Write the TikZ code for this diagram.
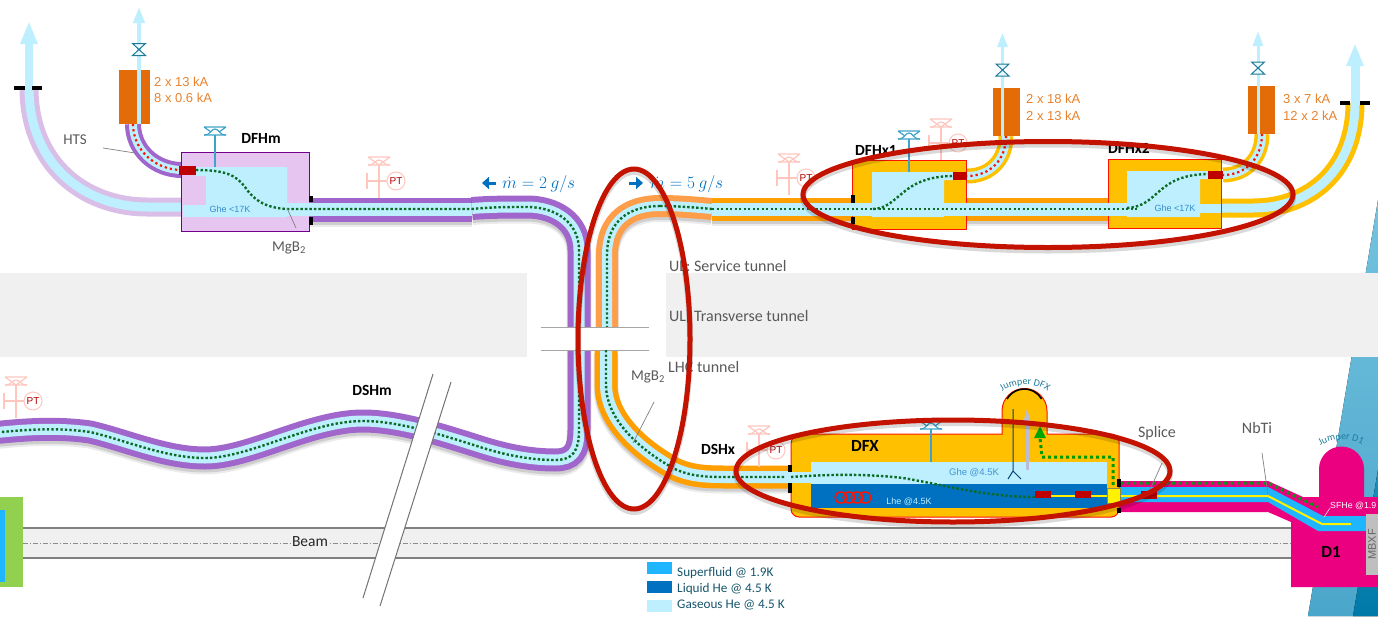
\documentclass[tikz,border=0pt]{standalone}
\usepackage{fontspec}
\setmainfont{Carlito}
\newfontfamily\leadfont{Liberation Sans}
\usetikzlibrary{arrows.meta,decorations.text}
\definecolor{gaslight}{HTML}{BDEFFF}
\definecolor{lhe}{HTML}{0070C0}
\definecolor{sfhe}{HTML}{1FB5FF}
\definecolor{dfhmfill}{HTML}{E6C6F0}
\definecolor{purp}{HTML}{A066CC}
\definecolor{lavend}{HTML}{D9BEE8}
\definecolor{oranA}{HTML}{FF9E00}
\definecolor{oranB}{HTML}{FF9E4A}
\definecolor{gold}{HTML}{FFC000}
\definecolor{leadbox}{HTML}{E36C09}
\definecolor{hoopred}{HTML}{C41200}
\definecolor{magent}{HTML}{EB0080}
\definecolor{tunnel}{HTML}{F0F0F0}
\definecolor{txtgray}{HTML}{595959}
\definecolor{ptpink}{HTML}{FFC6BE}
\definecolor{ventblue}{HTML}{3FA2C8}
\definecolor{valveteal}{HTML}{1F7A99}
\definecolor{dotgreen}{HTML}{0B6B23}
\definecolor{leafgreen}{HTML}{92D050}
\definecolor{slideA}{HTML}{74C3DF}
\definecolor{slideB}{HTML}{4BA6CB}
\definecolor{slideC}{HTML}{1A90BC}
\definecolor{slideD}{HTML}{0079A8}
\newcommand{\fs}[1]{\fontsize{#1}{#1}\selectfont}
% colour, outer width, inner width, dot style, path
\newcommand{\tube}[5]{%
  \draw[#1,line width=#2] #5;
  \draw[gaslight,line width=#3] #5;
  \draw[#4] #5;
}
\newcommand{\shadetube}[5]{%
  \draw[black,opacity=.08,line width=#2+2pt,yshift=-4pt] #5;
  \draw[black,opacity=.12,line width=#2,yshift=-3pt] #5;
  \tube{#1}{#2}{#3}{#4}{#5}
}
% name, foot of the stem
\newcommand{\ptsym}[3]{%
  \begin{scope}[shift={(#2,#3)}]
    \draw[ptline] (0,0) -- (0,-33);
    \draw[ptline] (-11,-41) -- (11,-41) (-11,-33) -- (11,-33) (-11,-41) -- (0,-33) -- (11,-41);
    \draw[ptline] (-11,-33) .. controls (-4,-33) and (-4,-38) .. (0,-38) .. controls (4,-38) and (4,-33) .. (11,-33);
    \node[ptcircle] (#1) at (17,-17) {PT};
    \draw[ptline] (-12,-17) -- (#1.west) (-12,-25) -- (-12,-9);
  \end{scope}}
\newcommand{\ventsym}[3]{%
  \begin{scope}[shift={(#1,#2)}]
    \draw[ventblue,line width=1.2pt] (0,0) -- (0,#3);
    \draw[ventblue,line width=1.2pt] (-11,-8) -- (11,-8) (-11,0) -- (11,0) (-11,-8) -- (-4,-3) (11,-8) -- (4,-3);
    \draw[ventblue,line width=1.2pt] (-11,0) .. controls (-4,0) and (-4,-6) .. (0,-6) .. controls (4,-6) and (4,0) .. (11,0);
  \end{scope}}
\newcommand{\valvesym}[2]{%
  \draw[valveteal,line width=1pt,fill=gaslight!40] (#1-6.5,#2-6) -- (#1+6.5,#2-6) -- (#1-6.5,#2+6) -- (#1+6.5,#2+6) -- cycle;}
\begin{document}
\begin{tikzpicture}[x=1pt,y=-1pt,
  lbltext/.style={font=\fs{15},text=txtgray,inner sep=0pt},
  tunneltxt/.style={font=\fs{16},text=txtgray,anchor=west,inner sep=0pt},
  nametag/.style={font=\fs{15.5}\bfseries,text=black,inner sep=0pt},
  amps/.style={font=\leadfont\fs{13},text=leadbox!85,anchor=west,inner sep=0pt},
  temp/.style={font=\leadfont\fs{9},text=lhe!80,inner sep=0pt},
  legtext/.style={font=\fs{13.2},text=valveteal!70!black,anchor=west,inner sep=0pt},
  legbox/.style={minimum width=25pt,minimum height=12pt,inner sep=0pt},
  ptline/.style={ptpink,line width=1.2pt},
  ptcircle/.style={circle,draw=ptpink,line width=1pt,fill=white,minimum size=18pt,inner sep=0pt,font=\leadfont\fs{10},text=red!70!black},
  gdots/.style={dotgreen,line width=2.4pt,dash pattern=on 2.4pt off 2.1pt},
  rdots/.style={red!85!orange,line width=2.2pt,dash pattern=on 2.2pt off 3pt},
  nodots/.style={draw=none},
  tank/.style={fill=gaslight},
  splice/.style={fill=red!75!black},
  flange/.style={black,line width=4pt},
  leader/.style={gray,line width=.7pt},
  hoop/.style={draw=hoopred,line width=5pt,preaction={draw=black,opacity=.15,line width=6pt,transform canvas={yshift=-3pt}}},
  flowarr/.style={-{Triangle[length=7pt,width=12pt]},lhe,line width=3pt}
]
\useasboundingbox (0,0) rectangle (1378,616);
% Slide corner, tunnels and beam
\fill[top color=slideA,bottom color=slideB] (1378,200) -- (1308,616) -- (1378,616) -- cycle;
\fill[top color=slideC,bottom color=slideD] (1378,470) -- (1353,616) -- (1378,616) -- cycle;
\fill[tunnel] (0,273) rectangle (527,357);
\fill[tunnel] (666,273) rectangle (1378,357);
\draw[fill=tunnel,draw=black!50,line width=1.2pt] (23,528) -- (1292,528) -- (1292,558) -- (23,558);
\draw[black!45,line width=.6pt,dash pattern=on 5pt off 2pt on 1pt off 2pt] (23,543) -- (1292,543);
\node[font=\fs{15.5},text=black!85,fill=tunnel,inner sep=1pt] (beam) at (310,542) {Beam};
\fill[leafgreen] (0,497) rectangle (23,587);
\fill[sfhe] (0,510) rectangle (5,582);

% DFHm side
\tube{lavend}{19pt}{9pt}{nodots}{(29,88) .. controls (29,165) and (85,207) .. (147,207) -- (185,207)}
\draw[-{Triangle[length=23pt,width=16pt]},gaslight,line width=8pt] (29,90) -- (29,21);
\draw[flange] (14,88) -- (25,88) (32,88) -- (42,88);
\tube{purp}{16pt}{8pt}{rdots}{(133,124) .. controls (133,150) and (155,170) .. (182,170)}
\draw[-{Triangle[length=16pt,width=11pt]},gaslight,line width=4pt] (139,124) -- (139,7);
\fill[leadbox] (119,70) rectangle (150,124);
\fill[gaslight] (137,70) rectangle (141,124);
\valvesym{139}{49.5}
\node[amps] (ampsA) at (154,82) {2 x 13 kA};
\node[amps] (ampsB) at (154,98) {8 x 0.6 kA};
\draw[fill=dfhmfill,draw=purple!60!blue,line width=1pt] (181,152) rectangle (309,231);
\shadetube{purp}{24pt}{13pt}{nodots}{(309,209.5) -- (472,209.5)}
\shadetube{purp}{23pt}{11pt}{nodots}{(472,208.5) .. controls (490,207) and (510,207) .. (527,207) .. controls (555,207) and (579,222) .. (579,250) -- (579,430) .. controls (579,452) and (572,460) .. (555,460) .. controls (530,460) and (505,455) .. (480,447) .. controls (445,436) and (400,421) .. (363,421) .. controls (310,421) and (250,458) .. (205,458) .. controls (165,458) and (125,440) .. (90,432) .. controls (55,427) and (20,430) .. (-8,433)}
\fill[tank] (196,167) -- (287,167) -- (287,217) -- (206,217) -- (206,176) -- (196,176) -- cycle;
\fill[tank] (183,205) rectangle (206,217);
\fill[tank] (287,203) rectangle (315,216);
\fill[splice] (179,166) rectangle (196,175);
\ventsym{215}{135}{32}
\draw[gdots] (196,170) .. controls (225,170) and (236,175) .. (245,187) .. controls (255,202) and (268,208) .. (287,209) -- (472,209) .. controls (490,207) and (510,207) .. (527,207) .. controls (555,207) and (579,222) .. (579,250) -- (579,327);
\draw[gdots] (579,350) -- (579,430) .. controls (579,452) and (572,460) .. (555,460) .. controls (530,460) and (505,455) .. (480,447) .. controls (445,436) and (400,421) .. (363,421) .. controls (310,421) and (250,458) .. (205,458) .. controls (165,458) and (125,440) .. (90,432) .. controls (55,427) and (20,430) .. (-8,433);
\draw[flange] (311,196) -- (311,202) (311,217) -- (311,225);
\node[temp] (gheA) at (230,209) {Ghe <17K};
\node[lbltext] (hts) at (75,140) {HTS};
\coordinate (htsA) at (103,148);
\coordinate (htsB) at (135,153);
\draw[leader] (htsA) -- (htsB);
\node[nametag] (dfhm) at (261,138) {DFHm};
\node[lbltext] (mgbA) at (289,248) {MgB\textsubscript{2}};
\coordinate (mgbAa) at (287,208);
\coordinate (mgbAb) at (296,228);
\draw[leader] (mgbAa) -- (mgbAb);
\ptsym{ptA}{379}{198}
\ptsym{ptB}{16}{418}
\node[nametag] (dshm) at (372,390) {DSHm};

% DFHx side
\shadetube{oranB}{22pt}{10pt}{nodots}{(712,209) .. controls (690,207) and (675,206) .. (660,206) .. controls (630,206) and (607,220) .. (607,255) -- (607,327)}
\shadetube{oranA}{23pt}{12pt}{nodots}{(606,350) -- (606,385) .. controls (606,415) and (632,445) .. (673,468) .. controls (690,477) and (710,477) .. (727,477) -- (791,477)}
\shadetube{oranA}{23pt}{13pt}{nodots}{(712,209.5) -- (852,209.5)}
\shadetube{oranA}{23pt}{13pt}{nodots}{(966,209.5) -- (1108,209.5)}
\tube{gold}{19pt}{9pt}{nodots}{(1221,208) -- (1253,208) .. controls (1310,208) and (1355,170) .. (1355,103)}
\tube{gold}{15pt}{8pt}{rdots}{(1006,136) .. controls (1006,160) and (990,176) .. (967,176)}
\tube{gold}{15pt}{8pt}{rdots}{(1262,134) .. controls (1262,158) and (1246,175) .. (1223,175)}
\draw[-{Triangle[length=23pt,width=16pt]},gaslight,line width=9pt] (1355,105) -- (1355,43);
\draw[flange] (1340,103) -- (1350,103) (1360,103) -- (1370,103);
\draw[-{Triangle[length=14pt,width=10pt]},gaslight,line width=3pt] (1002.5,136) -- (1002.5,33);
\draw[-{Triangle[length=15pt,width=10pt]},gaslight,line width=3pt] (1258,134) -- (1258,31);
\fill[leadbox] (993,88) rectangle (1020,136);
\fill[gaslight] (1001,88) rectangle (1004,136);
\fill[leadbox] (1248,86) rectangle (1275,134);
\fill[gaslight] (1256.5,86) rectangle (1259.5,134);
\valvesym{1002.5}{70}
\valvesym{1258}{68}
\node[amps] (ampsC) at (1026,99) {2 x 18 kA};
\node[amps] (ampsD) at (1026,116) {2 x 13 kA};
\node[amps] (ampsE) at (1283,99) {3 x 7 kA};
\node[amps] (ampsF) at (1283,116) {12 x 2 kA};
\ptsym{ptC}{789}{195}
\ptsym{ptD}{941}{160}
\draw[fill=gold,draw=red!85!orange,line width=1pt] (852,160) rectangle (966,229);
\draw[fill=gold,draw=red!85!orange,line width=1pt] (1108,159) rectangle (1221,228);
\fill[tank] (872,172) -- (953,172) -- (953,180) -- (944,180) -- (944,217) -- (872,217) -- cycle;
\fill[tank] (1127,171) -- (1209,171) -- (1209,179) -- (1200,179) -- (1200,217) -- (1127,217) -- cycle;
\fill[tank] (852,203) rectangle (1127,216);
\fill[tank] (1200,204) rectangle (1221,213);
\fill[splice] (952.5,172) rectangle (967,180);
\fill[splice] (1208,171) rectangle (1223,179);
\ventsym{909}{139}{33}
\draw[flange] (853,195) -- (853,203) (853,217) -- (853,224);
\draw[gdots] (660,206) .. controls (630,206) and (607,220) .. (607,255) -- (607,327);
\draw[gdots] (712,209) .. controls (690,207) and (675,206) .. (660,206);
\draw[gdots] (712,209) -- (1139,209);
\draw[gdots] (873,209) .. controls (900,208) and (900,177) .. (952,176);
\draw[gdots] (1127,208) .. controls (1160,206) and (1155,175) .. (1208,174);
\node[temp] (gheB) at (1175,208) {Ghe <17K};
\node[nametag] (dfhxa) at (876,150) {DFHx1};
\node[nametag] (dfhxb) at (1129,148) {DFHx2};

% Cut of the transverse tunnel
\fill[white] (541,327) rectangle (649,350);
\draw[black!35,line width=1pt] (541,327) -- (649,327) (541,350) -- (649,350);
\node[tunneltxt] (ulsrv) at (669,266) {UL: Service tunnel};
\node[tunneltxt] (ultrs) at (669,316) {UL: Transverse tunnel};
\node[tunneltxt] (lhc) at (668,367) {LHC tunnel};
\node[font=\fs{16},text=lhe,anchor=west,inner sep=0pt] (flowA) at (502,184) {$\dot{m}=2\ g/s$};
\node[font=\fs{16},text=lhe,anchor=west,inner sep=0pt] (flowB) at (650,184) {$\dot{m}=5\ g/s$};
\coordinate (flowAa) at (482,183);
\coordinate (flowAb) at (496,183);
\coordinate (flowBa) at (643,183);
\coordinate (flowBb) at (629,183);
\draw[flowarr] (flowAb) -- (flowAa);
\draw[flowarr] (flowBb) -- (flowBa);
\node[lbltext] (mgbB) at (648,377) {MgB\textsubscript{2}};
\coordinate (mgbBa) at (654,402);
\coordinate (mgbBb) at (633,443);
\draw[gdots] (606,350) -- (606,385) .. controls (606,415) and (632,445) .. (673,468) .. controls (690,477) and (710,477) .. (727,477) -- (791,477);
\draw[leader] (mgbBa) -- (mgbBb);
\node[nametag] (dshx) at (718,449) {DSHx};
\ptsym{ptE}{759}{467}

% Right part with D1
\fill[magent] (1119,481) -- (1268,481) -- (1303,497) -- (1319,497) -- (1319,469) arc[start angle=180,end angle=0,radius=22.5pt] -- (1364,497) -- (1378,497) -- (1378,587) -- (1291,587) -- (1291,522) -- (1268,512) -- (1119,512) -- cycle;
\fill[sfhe] (1119,487) -- (1268,487) -- (1323,516) -- (1366,516) -- (1366,531) -- (1318,531) -- (1268,502) -- (1119,502) -- cycle;
\node[fill=black!25,text=black!60,font=\leadfont\fs{11},rotate=90,minimum width=61pt,minimum height=12pt,inner sep=0pt] (mbxf) at (1372,544.5) {MBXF};
\draw[yellow,line width=2pt] (1120,496) -- (1268,496) -- (1322,524) -- (1351,524);
\draw[dotgreen!70!green,line width=3pt,dash pattern=on 3pt off 3.5pt] (1120,483) -- (1268,483) -- (1318,507);
\node[font=\leadfont\fs{8.8},text=white,anchor=west,inner sep=0pt] (sfhelbl) at (1330,506) {SFHe @1.9};
\coordinate (sfheA) at (1330,508);
\coordinate (sfheB) at (1324,517);
\draw[leader,white!70!gray] (sfheA) -- (sfheB);
\node[font=\fs{17}\bfseries,inner sep=0pt] (done) at (1331,552) {D1};
\node[lbltext,font=\fs{16}] (nbti) at (1257,428) {NbTi};
\coordinate (nbtiA) at (1262,453);
\coordinate (nbtiB) at (1268,495);
\draw[leader] (nbtiA) -- (nbtiB);
\node[lbltext,font=\fs{16}] (splicelbl) at (1157,433) {Splice};
\fill[splice] (1141,491) rectangle (1157,499);
\coordinate (spliceA) at (1162,463);
\coordinate (spliceB) at (1150,490);
\draw[leader] (spliceA) -- (spliceB);
\path[decorate,decoration={text along path,text={|\fs{10}\color{valveteal}|Jumper D1},text align=center}] (1316,449) .. controls (1330,437) and (1352,437) .. (1367,447);

% DFX
\draw[fill=gold,draw=red!85!orange,line width=1pt] (791,470) [rounded corners=10pt] -- (791,434) [sharp corners] -- (1002,434) -- (1002,411) arc[start angle=180,end angle=0,radius=22.5pt] -- (1047,434) [rounded corners=8pt] -- (1119,434) -- (1119,517) -- (791,517) [sharp corners] -- cycle;
\draw[black,line width=1.6pt] (1007,399) arc[start angle=150,end angle=30,radius=20pt];
\path[decorate,decoration={text along path,text={|\fs{10}\color{valveteal}|Jumper DFX},text align=center}] (998,395) .. controls (1012,381) and (1038,381) .. (1052,395);
\fill[gaslight] (811,462) rectangle (1107,484);
\fill[lhe] (811,484) rectangle (1107,508);
\fill[tank] (785,472) rectangle (811,483);
\draw[flange] (790,465) -- (790,472) (790,483) -- (790,493);
\foreach \cx in {841,849,857,865} \draw[red!85!orange,line width=1.5pt] (\cx,497.5) ellipse [x radius=6pt,y radius=5.5pt];
\ventsym{931}{429}{33}
\node[nametag,font=\fs{17}\bfseries] (dfx) at (865,446) {DFX};
\node[temp,font=\leadfont\fs{9.5},text=lhe!75] (ghefx) at (974,473) {Ghe @4.5K};
\node[temp,font=\leadfont\fs{9},text=gaslight] (lhefx) at (909,502) {Lhe @4.5K};
\draw[-{Triangle[length=17pt,width=8pt]},cyan!30!blue!25!white!80!gray,line width=3pt] (1027,470) -- (1027,408);
\draw[lhe!60!black,line width=1pt] (1013,409) -- (1013,471) (1008,479) -- (1013,471) -- (1021,479);
\draw[gdots] (791,477) .. controls (820,475) and (860,473) .. (903,478) .. controls (940,484) and (985,497) .. (1035,497);
\draw[yellow,line width=2pt] (1051,496) -- (1107,496);
\fill[splice] (1035,491) rectangle (1051,498);
\fill[splice] (1075,491) rectangle (1091,498);
\draw[draw=yellow!50!black,fill=yellow,line width=1pt] (1107,488) rectangle (1120,503);
\draw[flange] (1119,479) -- (1119,487) (1119,508) -- (1119,513);
\draw[green!60!black,line width=3pt,dash pattern=on 3pt off 3pt] (1113,485) -- (1113,457) -- (1042,457) -- (1040,438);
\draw[-{Triangle[length=12pt,width=11pt]},green!65!black,line width=3pt] (1040,437) -- (1040,426);

% Legend
\node[legbox,fill=sfhe] (legsf) at (659.5,568) {};
\node[legbox,fill=lhe] (leglhe) at (659.5,587) {};
\node[legbox,fill=gaslight] (leggas) at (659.5,606) {};
\node[legtext] (txtsf) at (677,573) {Superfluid @ 1.9K};
\node[legtext] (txtlhe) at (677,589) {Liquid He @ 4.5 K};
\node[legtext] (txtgas) at (677,605) {Gaseous He @ 4.5 K};

% Cut through the hall
\fill[white] (433,374) -- (451,382) -- (380,606) -- (363,598) -- cycle;
\draw[black!55,line width=1pt] (433,374) -- (363,598) (451,382) -- (380,606);

% Marks
\draw[hoop] (1048,194.5) ellipse [x radius=245pt,y radius=53pt];
\draw[hoop] (634,339) ellipse [x radius=56pt,y radius=170pt];
\draw[hoop] (953,471) ellipse [x radius=217pt,y radius=51pt];
\end{tikzpicture}
\end{document}
